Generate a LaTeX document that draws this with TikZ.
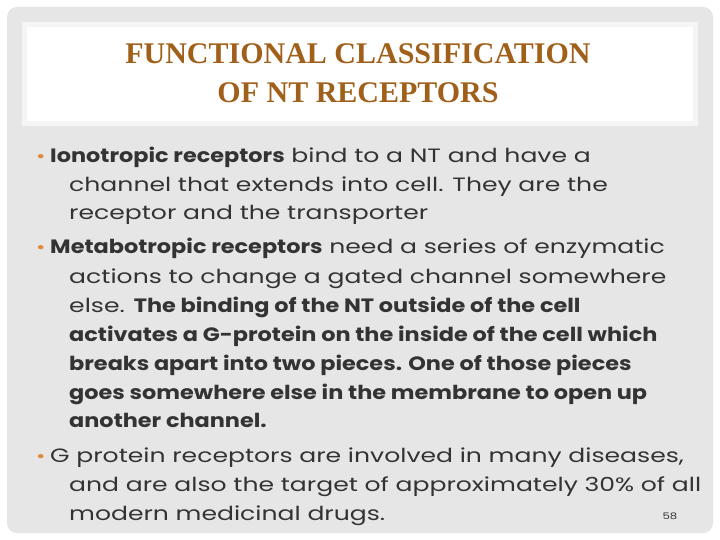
\documentclass[tikz,border=0pt]{standalone}
\usepackage{fontspec}
\setmainfont{Poppins}[FakeStretch=1.3, BoldFeatures={FakeStretch=1.16}]
\newfontfamily\titlefont{Liberation Serif}
\definecolor{panel}{HTML}{E6E6E6}
\definecolor{titlec}{HTML}{A0601A}
\definecolor{bodyc}{HTML}{333333}
\definecolor{bulc}{HTML}{E08A3C}
\begin{document}
\begin{tikzpicture}[x=1pt,y=-1pt,
  ln/.style={anchor=base west,inner sep=0,text=bodyc,font=\fontsize{19.3}{22}\selectfont},
  bul/.style={anchor=base west,inner sep=0,text=bulc,font=\fontsize{17.5}{20}\selectfont},
  tl/.style={inner sep=0,text=titlec,font=\titlefont\bfseries\fontsize{30}{32}\selectfont}]
\useasboundingbox (0,0) rectangle (720,540);
\fill[white] (0,0) rectangle (720,540);
\fill[panel,rounded corners=10pt] (7,7) rectangle (713,533);
\fill[white!60!panel] (22,22) rectangle (698,126);
\fill[white] (27,27) rectangle (693,121);
\node[tl] (t1) at (358,54) {FUNCTIONAL CLASSIFICATION};
\node[tl] (t2) at (358,93) {OF NT RECEPTORS};
\node[bul] (b1) at (36,163) {•};
\node[ln] (l1) at (50,163) {\textbf{Ionotropic receptors} bind to a NT and have a};
\node[ln] (l2) at (69,192) {channel that extends into cell. They are the};
\node[ln] (l3) at (69,220) {receptor and the transporter};
\node[bul] (b2) at (36,254) {•};
\node[ln] (l4) at (50,254) {\textbf{Metabotropic receptors} need a series of enzymatic};
\node[ln] (l5) at (69,283) {actions to change a gated channel somewhere};
\node[ln] (l6) at (69,312) {else. \textbf{The binding of the NT outside of the cell}};
\node[ln] (l7) at (69,341) {\textbf{activates a G-protein on the inside of the cell which}};
\node[ln] (l8) at (69,370) {\textbf{breaks apart into two pieces. One of those pieces}};
\node[ln] (l9) at (69,399) {\textbf{goes somewhere else in the membrane to open up}};
\node[ln] (l10) at (69,427) {\textbf{another channel.}};
\node[bul] (b3) at (36,462) {•};
\node[ln] (l11) at (50,462) {G protein receptors are involved in many diseases,};
\node[ln] (l12) at (69,491) {and are also the target of approximately 30\% of all};
\node[ln] (l13) at (69,520) {modern medicinal drugs.};
\node[anchor=base,inner sep=0,text=bodyc,font=\fontsize{9}{10}\selectfont] (pg) at (670,519) {58};
\end{tikzpicture}
\end{document}
